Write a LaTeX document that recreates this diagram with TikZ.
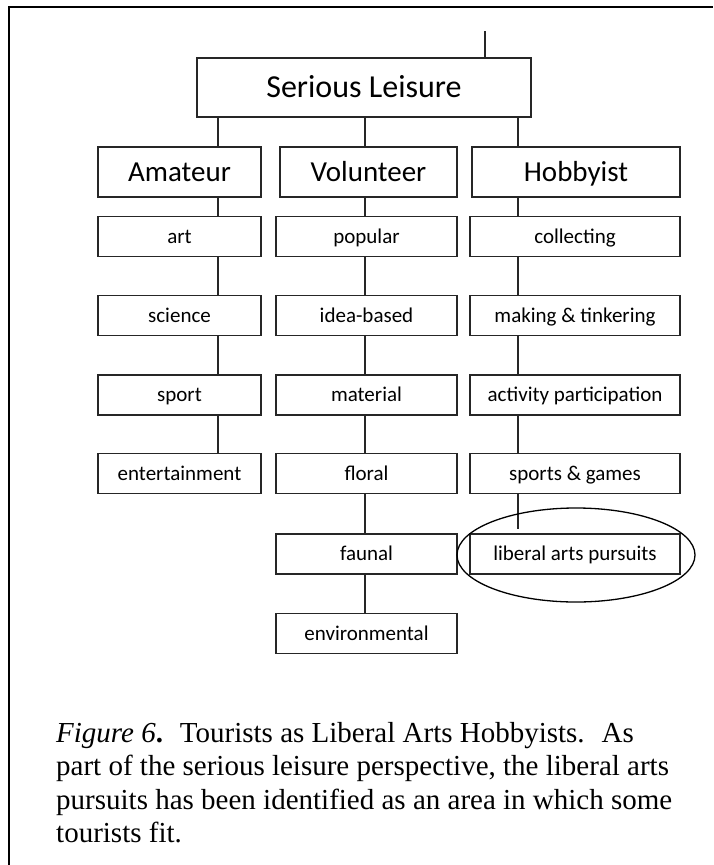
\documentclass[tikz,border=0pt]{standalone}
\usepackage{fontspec}
\setmainfont{Liberation Serif}
\newfontfamily\boxfont{Carlito}
\begin{document}
\begin{tikzpicture}[x=1pt,y=-1pt,
  box/.style={draw=black!85, line width=1.5pt, inner sep=0pt, anchor=center, text depth=0pt},
  headbox/.style={box, text height=20.6pt, font=\boxfont\fontsize{32}{38}\selectfont},
  catbox/.style={box, minimum height=50pt, text height=18.7pt, font=\boxfont\fontsize{29}{34}\selectfont},
  subbox/.style={box, minimum height=40pt, text height=13.5pt, font=\boxfont\fontsize{21}{25}\selectfont},
  colA/.style={subbox, minimum width=163pt},
  colV/.style={subbox, minimum width=181pt},
  colH/.style={subbox, minimum width=210pt},
  link/.style={draw=black!85, line width=1.5pt},
  captext/.style={anchor=base west, inner sep=0pt, font=\fontsize{29}{33.5}\selectfont}]
  \useasboundingbox (0,0) rectangle (713,865);
  \fill[white] (0,0) rectangle (713,865);

  % page frame (left and top edges)
  \draw[line width=2pt] (9,865) -- (9,7) -- (713,7);

  % column positions of the vertical connectors
  \coordinate (xA) at (218,0);
  \coordinate (xV) at (365,0);
  \coordinate (xH) at (518,0);
  \coordinate (top) at (485,31);

  % root
  \node[headbox, minimum width=334pt, minimum height=59pt] (sl) at (364,87.5) {Serious Leisure};

  % categories
  \node[catbox, minimum width=163pt] (am) at (179.5,172) {Amateur};
  \node[catbox, minimum width=177pt] (vo) at (368.5,172) {Volunteer};
  \node[catbox, minimum width=208pt] (ho) at (576,172) {Hobbyist};

  % amateur column
  \node[colA] (art) at (179.5,236.5) {art};
  \node[colA] (sci) at (179.5,315.5) {science};
  \node[colA] (spo) at (179.5,395) {sport};
  \node[colA] (ent) at (179.5,473.5) {entertainment};

  % volunteer column
  \node[colV] (pop) at (366.5,236.5) {popular};
  \node[colV] (ide) at (366.5,315.5) {idea-based};
  \node[colV] (mat) at (366.5,395) {material};
  \node[colV] (flo) at (366.5,473.5) {floral};
  \node[colV] (fau) at (366.5,554) {faunal};
  \node[colV] (env) at (366.5,633.5) {environmental};

  % hobbyist column
  \node[colH] (col) at (575,236.5) {collecting};
  \node[colH] (mak) at (575,315.5) {making \& tinkering};
  \node[colH] (act) at (575,395) {activity participation};
  \node[colH] (gam) at (575,473.5) {sports \& games};
  \node[colH] (lib) at (575,554) {liberal arts pursuits};
  \coordinate (libend) at (518,529);

  % connectors
  \draw[link] (top) -- (top |- sl.north);
  \draw[link] (sl.south -| xA) -- (am.north -| xA);
  \draw[link] (sl.south -| xV) -- (vo.north -| xV);
  \draw[link] (sl.south -| xH) -- (ho.north -| xH);

  \draw[link] (am.south -| xA) -- (art.north -| xA);
  \draw[link] (art.south -| xA) -- (sci.north -| xA);
  \draw[link] (sci.south -| xA) -- (spo.north -| xA);
  \draw[link] (spo.south -| xA) -- (ent.north -| xA);

  \draw[link] (vo.south -| xV) -- (pop.north -| xV);
  \draw[link] (pop.south -| xV) -- (ide.north -| xV);
  \draw[link] (ide.south -| xV) -- (mat.north -| xV);
  \draw[link] (mat.south -| xV) -- (flo.north -| xV);
  \draw[link] (flo.south -| xV) -- (fau.north -| xV);
  \draw[link] (fau.south -| xV) -- (env.north -| xV);

  \draw[link] (ho.south -| xH) -- (col.north -| xH);
  \draw[link] (col.south -| xH) -- (mak.north -| xH);
  \draw[link] (mak.south -| xH) -- (act.north -| xH);
  \draw[link] (act.south -| xH) -- (gam.north -| xH);
  \draw[link] (gam.south -| xH) -- (libend);

  % highlight ring
  \draw[line width=1.3pt] (576,555) ellipse [x radius=119pt, y radius=47pt];

  % caption
  \node[captext] (cap1) at (56,742) {\textit{Figure 6}\textbf{.}\hspace{0.25em} Tourists as Liberal Arts Hobbyists.\hspace{0.25em} As};
  \node[captext] (cap2) at (56,775.5) {part of the serious leisure perspective, the liberal arts};
  \node[captext] (cap3) at (56,809) {pursuits has been identified as an area in which some};
  \node[captext] (cap4) at (56,842.5) {tourists fit.};
\end{tikzpicture}
\end{document}
